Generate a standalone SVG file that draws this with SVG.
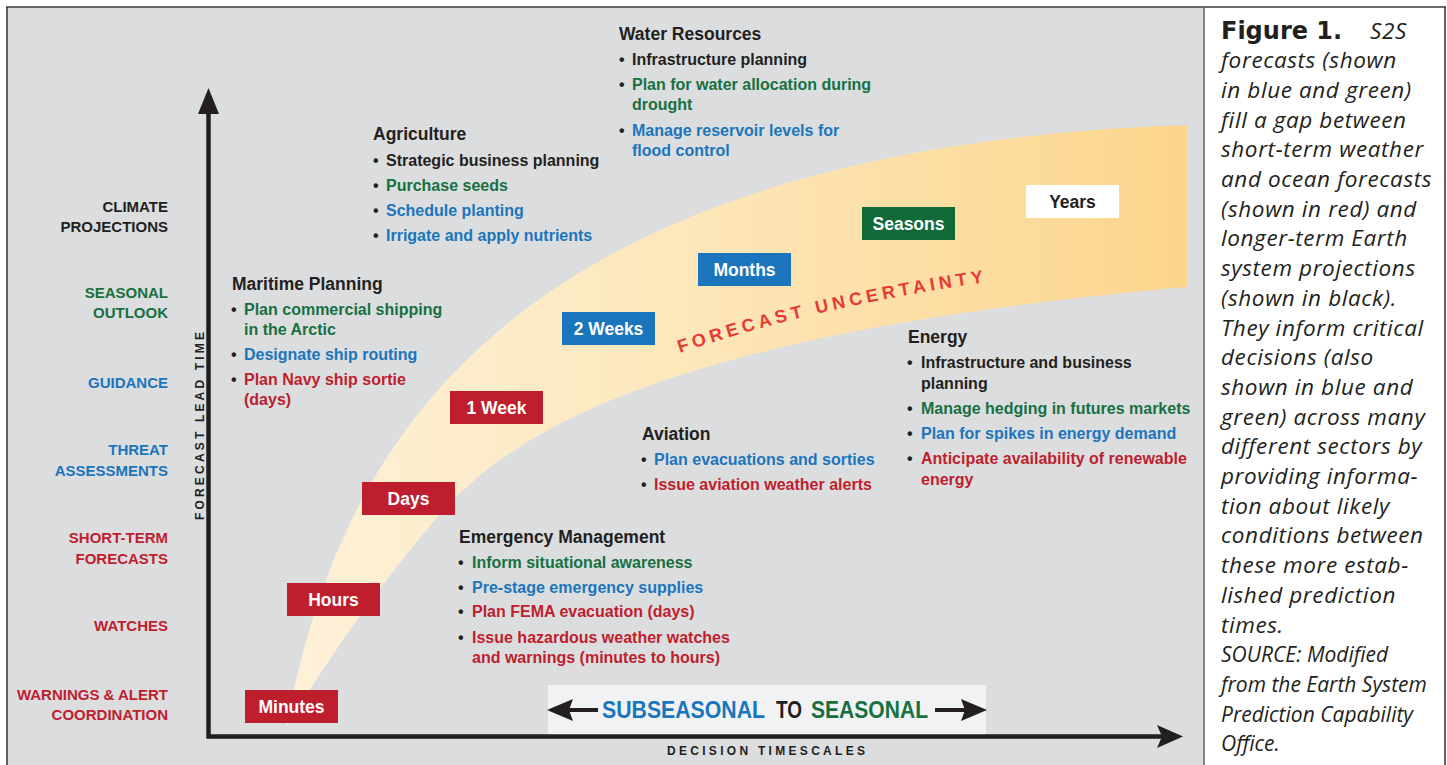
<svg xmlns="http://www.w3.org/2000/svg" width="1447" height="765" viewBox="0 0 1447 765">
  <defs>
    <linearGradient id="bandFill" gradientUnits="userSpaceOnUse" x1="286" y1="0" x2="1187" y2="0">
      <stop offset="0" stop-color="#fdf1d9"/>
      <stop offset="0.4" stop-color="#fde8be"/>
      <stop offset="1" stop-color="#fcd58c"/>
    </linearGradient>
    <!-- the band label follows a gentle arc, split into two pieces -->
    <path id="arcA" d="M680,353 Q743,331.4 813.1,314.7"/>
    <path id="arcB" d="M813.1,314.7 Q898.75,294.2 995,281"/>
  </defs>
  <style>
    text { font-family: "Liberation Sans", Arial, sans-serif; font-weight: bold; }
    .hd { font-size: 17.5px; fill: #231f20; }
    .it { font-size: 16px; }
    .lab { font-size: 15px; text-anchor: end; }
    .box-t { font-size: 17.5px; fill: #ffffff; text-anchor: middle; }
    .k { fill: #231f20; }
    .g { fill: #17703f; }
    .b { fill: #1b75bc; }
    .r { fill: #be1e2d; }
    .axis { stroke: #231f20; stroke-width: 4.5; fill: none; }
    .ah { fill: #231f20; }
    .band-t { font-size: 18px; letter-spacing: 4.2px; fill: #e53a35; }
    .cap { font-family: "Open Sans", "Noto Sans", sans-serif; font-weight: normal; font-style: italic; font-size: 22.5px; letter-spacing: 0.6px; fill: #231f20; }
    .src { font-size: 21px; letter-spacing: 0; }
    .capb { font-family: "DejaVu Sans", "Open Sans", sans-serif; font-weight: bold; font-size: 24px; fill: #231f20; }
  </style>

  <!-- page background, chart panel and caption panel -->
  <rect x="0" y="0" width="1447" height="765" fill="#ffffff"/>
  <rect x="7" y="7" width="1197" height="760" fill="#dcdddf"/>
  <rect x="1204" y="7" width="241" height="760" fill="#ffffff"/>
  <g stroke="#3a3a3a" fill="none">
    <line x1="6" y1="7" x2="1446" y2="7" stroke-width="1.6"/>
    <line x1="7" y1="7" x2="7" y2="765" stroke-width="1.6"/>
    <line x1="1204" y1="7" x2="1204" y2="765" stroke-width="1.6" stroke="#6b6b6b"/>
    <line x1="1445" y1="7" x2="1445" y2="765" stroke-width="1.6"/>
  </g>

  <!-- forecast uncertainty band -->
  <path id="band" d="M286,728 C330,500 450,150 1187,125 L1187,287 C700,330 530,420 450,503 C390,570 330,655 286,728 Z" fill="url(#bandFill)"/>
  <g id="band-label">
    <text class="band-t"><textPath href="#arcA">FORECAST</textPath></text>
    <text class="band-t"><textPath href="#arcB" startOffset="4">UNCERTAINTY</textPath></text>
  </g>

  <!-- subseasonal-to-seasonal span -->
  <g id="s2s-span">
    <rect x="548" y="685" width="438" height="50" fill="#f1f2f4"/>
    <line x1="568" y1="710" x2="598" y2="710" stroke="#231f20" stroke-width="4"/>
    <path class="ah" d="M547,710 L573,699 L569,710 L573,721 Z"/>
    <line x1="935" y1="710" x2="966" y2="710" stroke="#231f20" stroke-width="4"/>
    <path class="ah" d="M987,710 L961,699 L965,710 L961,721 Z"/>
    <text x="602" y="718" font-size="23" textLength="163" lengthAdjust="spacingAndGlyphs" class="b">SUBSEASONAL</text>
    <text x="776" y="718" font-size="23" textLength="26" lengthAdjust="spacingAndGlyphs" class="k">TO</text>
    <text x="811" y="718" font-size="23" textLength="117" lengthAdjust="spacingAndGlyphs" class="g">SEASONAL</text>
  </g>

  <!-- axes -->
  <g id="connectors">
    <polyline class="axis" points="208.5,110 208.5,736.5 1162,736.5"/>
    <path class="ah" d="M208.5,88 L219,114 L198,114 Z"/>
    <path class="ah" d="M1183,736.5 L1157,725 L1162,736.5 L1157,748 Z"/>
  </g>
  <text x="766" y="755" font-size="12" text-anchor="middle" textLength="198" lengthAdjust="spacing" class="k">DECISION TIMESCALES</text>
  <text transform="translate(204,426) rotate(-90)" font-size="12" text-anchor="middle" textLength="188" lengthAdjust="spacing" class="k">FORECAST LEAD TIME</text>

  <!-- lead-time categories -->
  <g id="lead-labels">
    <text x="168" y="212" class="lab k">CLIMATE</text>
    <text x="168" y="232" class="lab k">PROJECTIONS</text>
    <text x="168" y="298" class="lab g">SEASONAL</text>
    <text x="168" y="318" class="lab g">OUTLOOK</text>
    <text x="168" y="388" class="lab b">GUIDANCE</text>
    <text x="168" y="455" class="lab b">THREAT</text>
    <text x="168" y="476" class="lab b">ASSESSMENTS</text>
    <text x="168" y="543" class="lab r">SHORT-TERM</text>
    <text x="168" y="564" class="lab r">FORECASTS</text>
    <text x="168" y="631" class="lab r">WATCHES</text>
    <text x="168" y="700" class="lab r">WARNINGS &amp; ALERT</text>
    <text x="168" y="720" class="lab r">COORDINATION</text>
  </g>

  <!-- timescale boxes -->
  <g id="box-minutes">
    <rect x="245" y="690" width="93" height="33" fill="#be1e2d"/>
    <text x="291.5" y="712.5" class="box-t">Minutes</text>
  </g>
  <g id="box-hours">
    <rect x="287" y="583" width="93" height="33" fill="#be1e2d"/>
    <text x="333.5" y="605.5" class="box-t">Hours</text>
  </g>
  <g id="box-days">
    <rect x="362" y="482" width="93" height="33" fill="#be1e2d"/>
    <text x="408.5" y="504.5" class="box-t">Days</text>
  </g>
  <g id="box-1week">
    <rect x="450" y="391" width="93" height="33" fill="#be1e2d"/>
    <text x="496.5" y="413.5" class="box-t">1 Week</text>
  </g>
  <g id="box-2weeks">
    <rect x="562" y="312" width="93" height="33" fill="#1b75bc"/>
    <text x="608.5" y="334.5" class="box-t">2 Weeks</text>
  </g>
  <g id="box-months">
    <rect x="698" y="253" width="93" height="33" fill="#1b75bc"/>
    <text x="744.5" y="275.5" class="box-t">Months</text>
  </g>
  <g id="box-seasons">
    <rect x="862" y="207" width="93" height="33" fill="#0f6a38"/>
    <text x="908.5" y="229.5" class="box-t">Seasons</text>
  </g>
  <g id="box-years">
    <rect x="1026" y="185" width="93" height="33" fill="#ffffff"/>
    <text x="1072.5" y="207.5" class="box-t" style="fill:#231f20">Years</text>
  </g>

  <!-- sector decision lists -->
  <g id="sector-water">
    <text x="619" y="40" class="hd">Water Resources</text>
    <text x="619" y="65" class="it k">•</text>
    <text x="632" y="65" class="it k">Infrastructure planning</text>
    <text x="619" y="90" class="it k">•</text>
    <text x="632" y="90" class="it g">Plan for water allocation during</text>
    <text x="632" y="110" class="it g">drought</text>
    <text x="619" y="136" class="it k">•</text>
    <text x="632" y="136" class="it b">Manage reservoir levels for</text>
    <text x="632" y="156" class="it b">flood control</text>
  </g>
  <g id="sector-agriculture">
    <text x="373" y="140" class="hd">Agriculture</text>
    <text x="373" y="166" class="it k">•</text>
    <text x="386" y="166" class="it k">Strategic business planning</text>
    <text x="373" y="191" class="it k">•</text>
    <text x="386" y="191" class="it g">Purchase seeds</text>
    <text x="373" y="216" class="it k">•</text>
    <text x="386" y="216" class="it b">Schedule planting</text>
    <text x="373" y="241" class="it k">•</text>
    <text x="386" y="241" class="it b">Irrigate and apply nutrients</text>
  </g>
  <g id="sector-maritime">
    <text x="232" y="290" class="hd">Maritime Planning</text>
    <text x="231" y="315" class="it k">•</text>
    <text x="244" y="315" class="it g">Plan commercial shipping</text>
    <text x="244" y="335" class="it g">in the Arctic</text>
    <text x="231" y="360" class="it k">•</text>
    <text x="244" y="360" class="it b">Designate ship routing</text>
    <text x="231" y="385" class="it k">•</text>
    <text x="244" y="385" class="it r">Plan Navy ship sortie</text>
    <text x="244" y="405" class="it r">(days)</text>
  </g>
  <g id="sector-aviation">
    <text x="642" y="440" class="hd">Aviation</text>
    <text x="641" y="465" class="it k">•</text>
    <text x="654" y="465" class="it b">Plan evacuations and sorties</text>
    <text x="641" y="490" class="it k">•</text>
    <text x="654" y="490" class="it r">Issue aviation weather alerts</text>
  </g>
  <g id="sector-emergency">
    <text x="459" y="543" class="hd">Emergency Management</text>
    <text x="458" y="568" class="it k">•</text>
    <text x="472" y="568" class="it g">Inform situational awareness</text>
    <text x="458" y="593" class="it k">•</text>
    <text x="472" y="593" class="it b">Pre-stage emergency supplies</text>
    <text x="458" y="617" class="it k">•</text>
    <text x="472" y="617" class="it r">Plan FEMA evacuation (days)</text>
    <text x="458" y="643" class="it k">•</text>
    <text x="472" y="643" class="it r">Issue hazardous weather watches</text>
    <text x="472" y="663" class="it r">and warnings (minutes to hours)</text>
  </g>
  <g id="sector-energy">
    <text x="908" y="343" class="hd">Energy</text>
    <text x="907" y="368" class="it k">•</text>
    <text x="921" y="368" class="it k">Infrastructure and business</text>
    <text x="921" y="389" class="it k">planning</text>
    <text x="907" y="414" class="it k">•</text>
    <text x="921" y="414" class="it g">Manage hedging in futures markets</text>
    <text x="907" y="439" class="it k">•</text>
    <text x="921" y="439" class="it b">Plan for spikes in energy demand</text>
    <text x="907" y="464" class="it k">•</text>
    <text x="921" y="464" class="it r">Anticipate availability of renewable</text>
    <text x="921" y="485" class="it r">energy</text>
  </g>

  <!-- caption -->
  <g id="caption">
    <text x="1221" y="39" class="capb">Figure 1.</text>
    <text x="1370" y="38.5" class="cap">S2S</text>
    <text x="1221" y="68.2" class="cap">forecasts (shown</text>
    <text x="1221" y="97.9" class="cap">in blue and green)</text>
    <text x="1221" y="127.6" class="cap">fill a gap between</text>
    <text x="1221" y="157.3" class="cap">short-term weather</text>
    <text x="1221" y="187" class="cap">and ocean forecasts</text>
    <text x="1221" y="216.7" class="cap">(shown in red) and</text>
    <text x="1221" y="246.4" class="cap">longer-term Earth</text>
    <text x="1221" y="276.1" class="cap">system projections</text>
    <text x="1221" y="305.8" class="cap">(shown in black).</text>
    <text x="1221" y="335.5" class="cap">They inform critical</text>
    <text x="1221" y="365.2" class="cap">decisions (also</text>
    <text x="1221" y="394.9" class="cap">shown in blue and</text>
    <text x="1221" y="424.6" class="cap">green) across many</text>
    <text x="1221" y="454.3" class="cap">different sectors by</text>
    <text x="1221" y="484" class="cap">providing informa-</text>
    <text x="1221" y="513.7" class="cap">tion about likely</text>
    <text x="1221" y="543.4" class="cap">conditions between</text>
    <text x="1221" y="573.1" class="cap">these more estab-</text>
    <text x="1221" y="602.8" class="cap">lished prediction</text>
    <text x="1221" y="632.5" class="cap">times.</text>
    <text x="1221" y="662.2" class="cap src">SOURCE: Modified</text>
    <text x="1221" y="691.9" class="cap src">from the Earth System</text>
    <text x="1221" y="721.6" class="cap src">Prediction Capability</text>
    <text x="1221" y="751.3" class="cap src">Office.</text>
  </g>
</svg>
